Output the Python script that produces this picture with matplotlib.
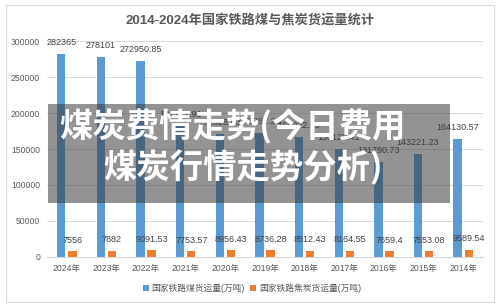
import matplotlib.pyplot as plt
import matplotlib.patches as patches
import numpy as np

plt.rcParams['font.family'] = ['Liberation Sans', 'Noto Sans CJK SC', 'DejaVu Sans']

years = ["2024年", "2023年", "2022年", "2021年", "2020年", "2019年",
         "2018年", "2017年", "2016年", "2015年", "2014年"]
coal = [282365, 278101, 272950.85, 182172.91, 171328.63, 172362.28,
        166922.95, 150129.41, 131790.73, 143221.23, 164130.57]
coal_labels = ["282365", "278101", "272950.85", "182172.91", "171328.63", "172362.28",
               "166922.95", "150129.41", "131790.73", "143221.23", "164130.57"]
coke = [7556, 7882, 9091.53, 7753.57, 8956.43, 8736.28,
        8512.43, 8164.55, 7659.4, 7553.08, 9589.54]
coke_labels = ["7556", "7882", "9091.53", "7753.57", "8956.43", "8736.28",
               "8512.43", "8164.55", "7659.4", "7553.08", "9589.54"]
yticks = [0, 50000, 100000, 150000, 200000, 250000, 300000]

blue = "#5B9BD5"
orange = "#ED7D31"
txt = "#595959"

fig = plt.figure(figsize=(5, 3.08), dpi=100)
ax = fig.add_axes([0.094, 0.1666, 0.872, 0.699])

x = np.arange(len(years))
w = 0.21
ax.bar(x - 0.14, coal, w, color=blue, label="国家铁路煤货运量(万吨)")
ax.bar(x + 0.14, coke, w, color=orange, label="国家铁路焦炭货运量(万吨)")

for xi, v, s in zip(x, coal, coal_labels):
    ax.annotate(s, (xi - 0.14, v), xytext=(0, 8), textcoords="offset points",
                ha="center", va="center", fontsize=6.5, color="#404040")
for xi, v, s in zip(x, coke, coke_labels):
    ax.annotate(s, (xi + 0.14, v), xytext=(0, 8), textcoords="offset points",
                ha="center", va="center", fontsize=6.5, color="#404040")

ax.set_xlim(-0.5, len(years) - 0.5)
ax.set_ylim(0, 300000)
ax.set_yticks(yticks)
ax.set_yticklabels([str(t) for t in yticks])
ax.set_xticks(x)
ax.set_xticklabels(years)
ax.tick_params(axis="both", length=0, labelsize=6.2, colors=txt)
ax.tick_params(axis="x", pad=5)
ax.tick_params(axis="y", pad=5)
ax.grid(axis="y", color="#D9D9D9", linewidth=0.7)
ax.set_axisbelow(True)
for s in ["top", "right", "left"]:
    ax.spines[s].set_visible(False)
ax.spines["bottom"].set_color("#D9D9D9")

fig.text(0.5, 0.935, "2014-2024年国家铁路煤与焦炭货运量统计", ha="center", va="center",
         fontsize=9.5, fontweight="bold", color=txt)

ax.legend(loc="center", bbox_to_anchor=(0.47, -0.147), ncol=2, frameon=False,
          fontsize=6.3, handlelength=0.7, handleheight=0.7, handletextpad=0.3,
          columnspacing=0.6, labelcolor=txt)

# outer frame
fig.patches.append(patches.Rectangle((0.012, 0.02), 0.976, 0.963, transform=fig.transFigure,
                                     fill=False, edgecolor="#D9D9D9", linewidth=0.8))

# gray overlay with caption
fig.patches.append(patches.Rectangle((0.096, 1 - 203 / 308), 0.804, 99 / 308,
                                     transform=fig.transFigure, facecolor="#3a3a3a",
                                     alpha=0.55, edgecolor="none", zorder=5))
fig.text(0.464, 1 - 127 / 308, "煤炭费情走势(今日费用", ha="center", va="center",
         fontsize=24, fontweight="bold", color="white", zorder=6,
         family=["Noto Sans CJK SC", "DejaVu Sans"])
fig.text(0.486, 1 - 168 / 308, "煤炭行情走势分析)", ha="center", va="center",
         fontsize=24, fontweight="bold", color="white", zorder=6,
         family=["Noto Sans CJK SC", "DejaVu Sans"])

fig.savefig("out.png", dpi=100)
